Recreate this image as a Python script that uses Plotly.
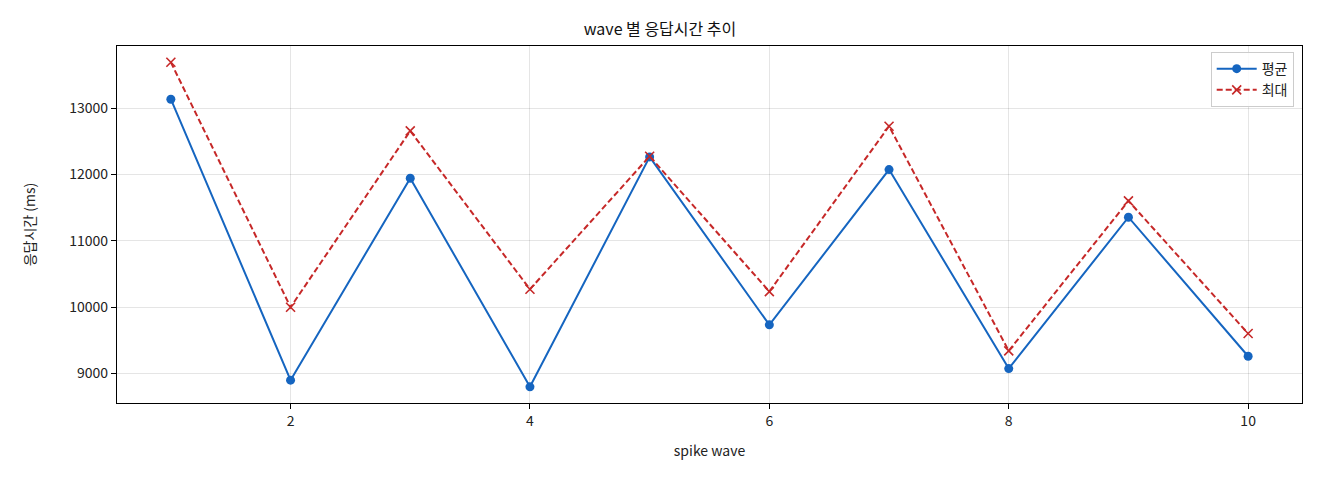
import plotly.graph_objects as go

waves = [1, 2, 3, 4, 5, 6, 7, 8, 9, 10]
avg_ms = [13136, 8900, 11945, 8800, 12266, 9734, 12075, 9075, 11357, 9261]
max_ms = [13693, 10000, 12658, 10271, 12276, 10236, 12729, 9342, 11603, 9603]
x_ticks = [2, 4, 6, 8, 10]
y_ticks = [9000, 10000, 11000, 12000, 13000]

FONT = "Noto Sans CJK KR, Noto Sans, DejaVu Sans"
BLUE = "#1565c0"
RED = "#c62828"

fig = go.Figure()
fig.add_trace(go.Scatter(
    x=waves, y=avg_ms, mode="lines+markers", name="평균",
    line=dict(color=BLUE, width=2),
    marker=dict(symbol="circle", size=9, color=BLUE),
))
fig.add_trace(go.Scatter(
    x=waves, y=max_ms, mode="lines+markers", name="최대",
    line=dict(color=RED, width=2, dash="6px,3px"),
    marker=dict(symbol="x-thin", size=9, line=dict(color=RED, width=1.6)),
))

axis_common = dict(
    showline=True, linecolor="black", linewidth=1.2, mirror=True,
    ticks="outside", ticklen=5, tickcolor="black", tickwidth=1,
    showgrid=True, gridcolor="rgba(0,0,0,0.1)", gridwidth=1,
    zeroline=False, tickfont=dict(size=14, color="#222"),
)
fig.update_xaxes(range=[0.55, 10.45], tickvals=x_ticks,
                 title=dict(text="spike wave", font=dict(size=14, color="#222"), standoff=17),
                 **axis_common)
fig.update_yaxes(range=[8556, 13938], tickvals=y_ticks, tickformat="d",
                 title=dict(text="응답시간 (ms)", font=dict(size=14, color="#222"), standoff=30),
                 **axis_common)

# page body has an 8px margin, so the figure is sized to sit inside it
fig.update_layout(
    width=1304, height=464,
    font=dict(family=FONT, color="#222"),
    title=dict(text="wave 별 응답시간 추이", x=0.5, xanchor="center", y=0.953, yanchor="middle",
               font=dict(size=16, color="#111")),
    paper_bgcolor="white", plot_bgcolor="white",
    margin=dict(l=109, r=10, t=38, b=69),
    showlegend=True,
    legend=dict(x=0.993, y=0.983, xanchor="right", yanchor="top",
                bgcolor="rgba(255,255,255,0.85)", bordercolor="#ccc", borderwidth=1,
                font=dict(size=14), itemwidth=40, tracegroupgap=8),
)

fig.write_html("out.html")
